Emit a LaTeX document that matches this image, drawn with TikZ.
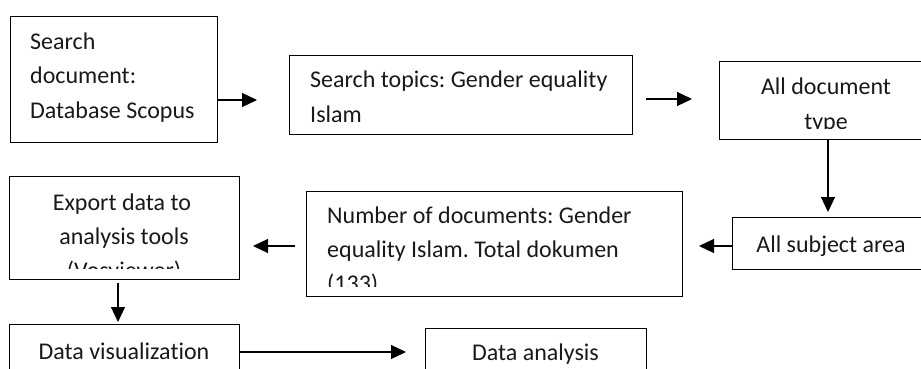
\documentclass[tikz,border=0pt]{standalone}
\usepackage{fontspec}
\setmainfont[Ligatures=NoCommon]{Carlito}
\usetikzlibrary{arrows.meta}
\frenchspacing
\begin{document}
\begin{tikzpicture}[x=1pt,y=-1pt,
  boxnode/.style={draw=black,line width=1.1pt,rectangle,inner sep=0pt,anchor=north west},
  txt/.style={inner sep=0pt,font=\fontsize{24pt}{28pt}\selectfont\frenchspacing,text=black!90},
  arr/.style={line width=1.2pt,-{Triangle[length=15pt,width=14pt]}}]
\useasboundingbox (0,0) rectangle (921,369);
\clip (0,0) rectangle (921,369);
% boxes
\node[boxnode,minimum width=207pt,minimum height=126pt] (b1) at (10,16) {};
\node[boxnode,minimum width=343pt,minimum height=79pt] (b2) at (289,55) {};
\node[boxnode,minimum width=214pt,minimum height=78pt] (b3) at (719,61) {};
\node[boxnode,minimum width=200pt,minimum height=52pt] (b4) at (732,217) {};
\node[boxnode,minimum width=376pt,minimum height=105pt] (b5) at (306,191) {};
\node[boxnode,minimum width=230pt,minimum height=103pt] (b6) at (9,176) {};
\node[boxnode,minimum width=230pt,minimum height=80pt] (b7) at (9,324) {};
\node[boxnode,minimum width=221pt,minimum height=80pt] (b8) at (425,328) {};
% texts
\node[txt,anchor=base west] (t1a) at (30,49) {Search};
\node[txt,anchor=base west] (t1b) at (30,83.5) {document:};
\node[txt,anchor=base west] (t1c) at (30,118) {Database Scopus};
\node[txt,anchor=base west] (t2a) at (310,88) {Search topics: Gender equality};
\node[txt,anchor=base west] (t2b) at (310,122) {Islam};
\begin{scope}
\clip (719,61) rectangle (933,128);
\node[txt,anchor=base] (t3a) at (826,95) {All document};
\node[txt,anchor=base] (t3b) at (826,129) {type};
\end{scope}
\node[txt,anchor=base] (t4) at (831,252) {All subject area};
\begin{scope}
\clip (306,191) rectangle (682,286);
\node[txt,anchor=base west] (t5a) at (327,223) {Number of documents: Gender};
\node[txt,anchor=base west] (t5b) at (327,257) {equality Islam. Total dokumen};
\node[txt,anchor=base west] (t5c) at (327,291) {(133)};
\end{scope}
\begin{scope}
\clip (9,176) rectangle (239,268);
\node[txt,anchor=base] (t6a) at (122,210) {Export data to};
\node[txt,anchor=base] (t6b) at (124,244) {analysis tools};
\node[txt,anchor=base] (t6c) at (124,278) {(Vosviewer)};
\end{scope}
\node[txt,anchor=base] (t7) at (124,359) {Data visualization};
\node[txt,anchor=base] (t8) at (535.5,360) {Data analysis};
% connectors
\coordinate (a1e) at (257,100);
\draw[arr] (b1.east |- a1e) -- (a1e);
\coordinate (a2s) at (646,99);
\coordinate (a2e) at (692,99);
\draw[arr] (a2s) -- (a2e);
\coordinate (a3e) at (828,212);
\draw[arr] (b3.south -| a3e) -- (a3e);
\coordinate (a4e) at (699,246);
\draw[arr] (b4.west |- a4e) -- (a4e);
\coordinate (a5s) at (295,246);
\coordinate (a5e) at (253,246);
\draw[arr] (a5s) -- (a5e);
\coordinate (a6s) at (118,283);
\coordinate (a6e) at (118,322);
\draw[arr] (a6s) -- (a6e);
\coordinate (a7e) at (406,352);
\draw[arr] (b7.east |- a7e) -- (a7e);
\end{tikzpicture}
\end{document}
